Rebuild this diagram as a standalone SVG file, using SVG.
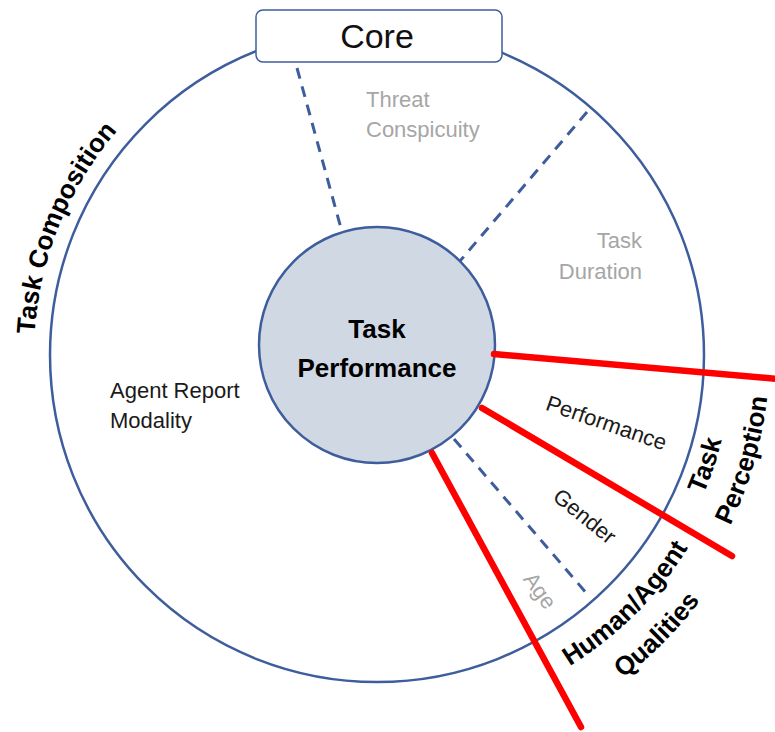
<svg xmlns="http://www.w3.org/2000/svg" width="775" height="732" viewBox="0 0 775 732">
<style>
.ring{fill:none;stroke:#3e5d9c;stroke-width:2.5}
.dash{stroke:#3e5d9c;stroke-width:3;stroke-dasharray:11 8;fill:none}
.red{stroke:#ff0000;stroke-width:6.5;stroke-linecap:round;fill:none}
.t{font-family:"Liberation Sans",Arial,sans-serif;font-size:22px;fill:#1a1a1a}
.g{font-family:"Liberation Sans",Arial,sans-serif;font-size:22px;fill:#a6a6a6}
.b{font-family:"Liberation Sans",Arial,sans-serif;font-size:26px;font-weight:bold;fill:#000}
</style>
<defs>
<path id="arcComp" d="M34.6,334.1 A343,343 0 0 1 259.7,32.7"/>
<path id="arcTask" d="M535.4,672.7 A355,355 0 0 0 694.7,196.6"/>
<path id="arcPerc" d="M567.0,697.9 A393,393 0 0 0 720.7,164.5"/>
<path id="arcHuman" d="M377,721 A366,366 0 0 0 743,355"/>
<path id="arcQual" d="M377,761 A406,406 0 0 0 783,355"/>
</defs>
<rect width="775" height="732" fill="#ffffff"/>
<g id="outer-ring">
<circle class="ring" cx="377" cy="355" r="327"/>
</g>
<g id="connectors">
<line class="dash" x1="297" y1="68" x2="342" y2="232"/>
<line class="dash" x1="587" y1="112" x2="460" y2="261"/>
<line class="dash" x1="454" y1="439" x2="588" y2="595"/>
</g>
<g id="core">
<rect x="256" y="10" width="246" height="52" rx="7" fill="#ffffff" stroke="#3e5d9c" stroke-width="1.5"/>
<text x="377" y="48" text-anchor="middle" font-family="Liberation Sans, Arial, sans-serif" font-size="34" fill="#111">Core</text>
</g>
<g id="task-performance">
<circle cx="377" cy="345" r="118" fill="#d0d8e4" stroke="#3e5d9c" stroke-width="2.5"/>
<text class="b" x="377" y="338" text-anchor="middle" font-size="27">Task</text>
<text class="b" x="377" y="377" text-anchor="middle" font-size="27">Performance</text>
</g>
<g id="red-connectors">
<line class="red" x1="494" y1="354" x2="778" y2="379"/>
<line class="red" x1="482" y1="408" x2="732" y2="556"/>
<line class="red" x1="432" y1="453" x2="581" y2="727"/>
</g>
<g id="threat-conspicuity">
<text class="g" x="366" y="107">Threat</text>
<text class="g" x="366" y="137">Conspicuity</text>
</g>
<g id="task-duration">
<text class="g" x="642" y="248" text-anchor="end">Task</text>
<text class="g" x="642" y="279" text-anchor="end">Duration</text>
</g>
<g id="agent-report-modality">
<text class="t" x="110" y="398">Agent Report</text>
<text class="t" x="110" y="428">Modality</text>
</g>
<g id="performance">
<text class="t" transform="translate(604,430) rotate(19)" text-anchor="middle">Performance</text>
</g>
<g id="gender">
<text class="t" transform="translate(580,522) rotate(39)" text-anchor="middle">Gender</text>
</g>
<g id="age">
<text class="g" transform="translate(534,595) rotate(54)" text-anchor="middle">Age</text>
</g>
<g id="task-composition">
<text class="b" font-size="27"><textPath href="#arcComp">Task Composition</textPath></text>
</g>
<g id="task-perception">
<text class="b" text-anchor="middle"><textPath href="#arcTask" startOffset="50%">Task</textPath></text>
<text class="b" text-anchor="middle"><textPath href="#arcPerc" startOffset="50%">Perception</textPath></text>
</g>
<g id="human-agent-qualities">
<text class="b" text-anchor="middle"><textPath href="#arcHuman" startOffset="50%">Human/Agent</textPath></text>
<text class="b" text-anchor="middle"><textPath href="#arcQual" startOffset="50%">Qualities</textPath></text>
</g>
</svg>
